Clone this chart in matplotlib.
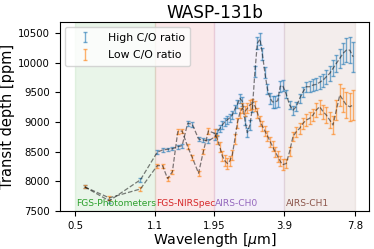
import numpy as np
import matplotlib
matplotlib.use("Agg")
import matplotlib.pyplot as plt

# wavelengths [um] per instrument
wl_phot = [0.55, 0.70, 0.95]
wl_nirspec = [1.12, 1.18, 1.24, 1.30, 1.37, 1.43, 1.51, 1.58, 1.68, 1.76, 1.85]
wl_ch0 = [1.97, 2.02, 2.07, 2.12, 2.17, 2.23, 2.28, 2.34, 2.40, 2.46, 2.52, 2.58,
          2.65, 2.71, 2.78, 2.85, 2.92, 2.99, 3.07, 3.14, 3.22, 3.30, 3.39, 3.47,
          3.56, 3.65, 3.74, 3.83]
wl_ch1 = [3.97, 4.10, 4.24, 4.38, 4.53, 4.68, 4.83, 4.99, 5.16, 5.33, 5.51, 5.70,
          5.88, 6.08, 6.28, 6.49, 6.71, 6.93, 7.16, 7.40, 7.65]

# high C/O ratio
high_phot = [7905, 7670, 8025]
high_nirspec = [8490, 8528, 8540, 8550, 8584, 8601, 8980, 8962, 8714, 8697, 8680]
high_ch0 = [8750, 8820, 8890, 8950, 9000, 9040, 9070, 9120, 9220, 9300, 9400, 9350,
            9020, 8820, 8950, 9250, 9850, 10330, 10400, 10150, 9830, 9560, 9400, 9340,
            9340, 9360, 9600, 9620]
high_ch1 = [9470, 9290, 9200, 9260, 9400, 9510, 9596, 9596, 9624, 9636, 9670, 9708,
            9764, 9821, 9906, 9990, 10074, 10159, 10214, 10214, 10100]
high_err_phot = [25, 30, 30]
high_err_nirspec = [30, 30, 30, 30, 35, 35, 40, 40, 35, 35, 35]
high_err_ch0 = [60, 60, 60, 60, 60, 65, 65, 65, 70, 70, 75, 75, 75, 80, 80, 85, 95,
                105, 105, 100, 95, 90, 95, 100, 100, 100, 95, 95]
high_err_ch1 = [70, 70, 75, 75, 80, 85, 85, 90, 95, 100, 105, 110, 115, 125, 135,
                145, 160, 180, 200, 220, 250]

# low C/O ratio
low_phot = [7905, 7720, 7870]
low_nirspec = [8264, 8264, 8045, 8163, 8837, 8849, 8584, 8399, 8136, 8501, 8849]
low_ch0 = [8810, 8710, 8580, 8430, 8350, 8300, 8340, 8450, 8720, 8990, 9160, 9230,
           9180, 9230, 9290, 9310, 9270, 9160, 9010, 8930, 8850, 8770, 8670, 8590,
           8500, 8420, 8340, 8280]
low_ch1 = [8300, 8500, 8753, 8837, 8894, 8979, 9034, 9062, 9118, 9203, 9258, 9174,
           9118, 9034, 8950, 9203, 9456, 9371, 9287, 9258, 9287]
low_err_phot = [25, 30, 30]
low_err_nirspec = [35, 35, 35, 35, 40, 40, 40, 40, 40, 40, 45]
low_err_ch0 = [70, 75, 80, 85, 90, 90, 90, 85, 85, 85, 85, 85, 85, 85, 85, 85, 85,
               85, 85, 85, 85, 85, 85, 85, 85, 90, 90, 95]
low_err_ch1 = [75, 75, 80, 85, 90, 95, 100, 100, 105, 110, 115, 120, 130, 140, 150,
               165, 180, 200, 220, 240, 250]

regions = ["FGS-Photometers", "FGS-NIRSpec", "AIRS-CH0", "AIRS-CH1"]
region_edges = [0.5, 1.1, 1.95, 3.9, 7.8]
region_colors = ["tab:green", "tab:red", "tab:purple", "tab:brown"]

wl = np.concatenate([wl_phot, wl_nirspec, wl_ch0, wl_ch1])
high = np.concatenate([high_phot, high_nirspec, high_ch0, high_ch1])
high_err = np.concatenate([high_err_phot, high_err_nirspec, high_err_ch0, high_err_ch1])
low = np.concatenate([low_phot, low_nirspec, low_ch0, low_ch1])
low_err = np.concatenate([low_err_phot, low_err_nirspec, low_err_ch0, low_err_ch1])

fig = plt.figure(figsize=(3.74, 2.49), dpi=100)
ax = fig.add_axes([0.160, 0.153, 0.827, 0.759])

for i, name in enumerate(regions):
    ax.axvspan(region_edges[i], region_edges[i + 1], color=region_colors[i], alpha=0.1)
    ax.text(region_edges[i] * 1.012, 7545, name, color=region_colors[i],
            fontsize=6.6, ha="left", va="bottom")

ax.errorbar(wl, high, yerr=high_err, fmt="none", ecolor="tab:blue", alpha=0.6,
            capsize=1.5, elinewidth=1, label="High C/O ratio")
ax.errorbar(wl, low, yerr=low_err, fmt="none", ecolor="tab:orange", alpha=0.6,
            capsize=1.5, elinewidth=1, label="Low C/O ratio")
ax.plot(wl, high, "k--", alpha=0.5, lw=0.9)
ax.plot(wl, low, "k--", alpha=0.5, lw=0.9)

ax.set_xscale("log")
ax.set_xlim(0.431, 8.95)
ax.set_ylim(7500, 10690)
ax.set_xticks(region_edges)
ax.set_xticklabels(["0.5", "1.1", "1.95", "3.9", "7.8"])
ax.xaxis.set_minor_locator(matplotlib.ticker.NullLocator())
ax.set_yticks([7500, 8000, 8500, 9000, 9500, 10000, 10500])
ax.tick_params(labelsize=7.3)
ax.set_xlabel(r"Wavelength [$\mu$m]", fontsize=10.2, labelpad=0)
ax.set_ylabel("Transit depth [ppm]", fontsize=10.5, labelpad=2)
ax.set_title("WASP-131b", fontsize=12.2, pad=3)
ax.legend(loc="upper left", fontsize=7.8, labelspacing=0.7, handlelength=2.6,
          borderpad=0.5)

fig.savefig("out.png", dpi=100)
